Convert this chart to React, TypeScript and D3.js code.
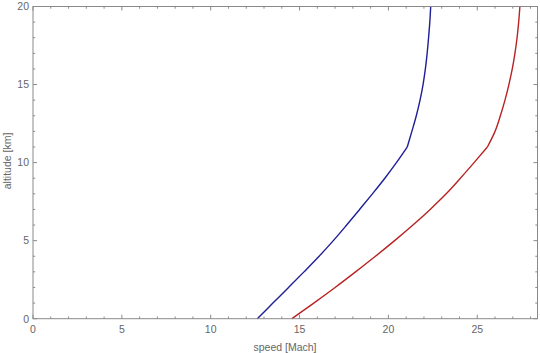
import React from "react";
import * as d3 from "d3";

const altitudeKm = [0, 1, 2, 3, 4, 5, 6, 7, 8, 9, 10, 11, 12, 13, 14, 15, 16, 17, 18, 19, 20];
const blueSpeed = [12.62, 13.5, 14.38, 15.25, 16.1, 16.9, 17.65, 18.38, 19.1, 19.8, 20.45, 21.06, 21.32, 21.57, 21.78, 21.95, 22.08, 22.18, 22.26, 22.33, 22.38];
const redSpeed = [14.56, 15.8, 17.0, 18.15, 19.27, 20.35, 21.38, 22.35, 23.25, 24.05, 24.82, 25.57, 26.0, 26.3, 26.56, 26.78, 26.97, 27.12, 27.24, 27.33, 27.4];
const kinkAltitude = 11;
const xMajorTicks = [0, 5, 10, 15, 20, 25];
const yMajorTicks = [0, 5, 10, 15, 20];
const xLabel = "speed [Mach]";
const yLabel = "altitude [km]";

const W = 540;
const H = 353;
const left = 33;
const right = 537.5;
const top = 6.5;
const bottom = 318.7;

export default function App() {
  const x = d3.scaleLinear().domain([0, 28.39]).range([left, right]);
  const y = d3.scaleLinear().domain([0, 20]).range([bottom, top]);
  const xMinor = d3.range(0, 29, 1).filter((v) => v % 5 !== 0);
  const yMinor = d3.range(0, 21, 1).filter((v) => v % 5 !== 0);

  const line = d3
    .line<[number, number]>()
    .x((d) => x(d[0]))
    .y((d) => y(d[1]))
    .curve(d3.curveMonotoneY);

  const segs = (speeds: number[]) => {
    const pts: [number, number][] = altitudeKm.map((h, i) => [speeds[i], h]);
    const k = altitudeKm.indexOf(kinkAltitude);
    return [pts.slice(0, k + 1), pts.slice(k)];
  };

  const frame = "#8a8a8a";
  const textColor = "#666";
  const font = "'Liberation Sans', Arial, sans-serif";
  const majorLen = 4;
  const minorLen = 2.2;

  return (
    <svg width={W} height={H} style={{ position: "absolute", left: 0, top: 0, background: "#fff" }}>
      <rect x={0} y={0} width={W} height={H} fill="#fff" />
      {segs(blueSpeed).map((s, i) => (
        <path key={"b" + i} d={line(s) || ""} fill="none" stroke="#1e1e98" strokeWidth={1.4} />
      ))}
      {segs(redSpeed).map((s, i) => (
        <path key={"r" + i} d={line(s) || ""} fill="none" stroke="#b82222" strokeWidth={1.4} />
      ))}
      <rect x={left} y={top} width={right - left} height={bottom - top} fill="none" stroke={frame} strokeWidth={1} />
      {xMajorTicks.map((v) => (
        <g key={"xm" + v}>
          <line x1={x(v)} x2={x(v)} y1={bottom} y2={bottom - majorLen} stroke={frame} />
          <line x1={x(v)} x2={x(v)} y1={top} y2={top + majorLen} stroke={frame} />
          <text x={x(v)} y={bottom + 14} textAnchor="middle" fontFamily={font} fontSize={10.5} fill={textColor}>
            {v}
          </text>
        </g>
      ))}
      {xMinor.map((v) => (
        <g key={"xn" + v}>
          <line x1={x(v)} x2={x(v)} y1={bottom} y2={bottom - minorLen} stroke={frame} />
          <line x1={x(v)} x2={x(v)} y1={top} y2={top + minorLen} stroke={frame} />
        </g>
      ))}
      {yMajorTicks.map((v) => (
        <g key={"ym" + v}>
          <line x1={left} x2={left + majorLen} y1={y(v)} y2={y(v)} stroke={frame} />
          <line x1={right} x2={right - majorLen} y1={y(v)} y2={y(v)} stroke={frame} />
          <text x={left - 4} y={y(v) + 3.8} textAnchor="end" fontFamily={font} fontSize={10.5} fill={textColor}>
            {v}
          </text>
        </g>
      ))}
      {yMinor.map((v) => (
        <g key={"yn" + v}>
          <line x1={left} x2={left + minorLen} y1={y(v)} y2={y(v)} stroke={frame} />
          <line x1={right} x2={right - minorLen} y1={y(v)} y2={y(v)} stroke={frame} />
        </g>
      ))}
      <text x={285} y={351} textAnchor="middle" fontFamily={font} fontSize={10.5} fill={textColor}>
        {xLabel}
      </text>
      <text
        transform={`translate(10.5,161) rotate(-90)`}
        textAnchor="middle"
        fontFamily={font}
        fontSize={10.5}
        fill={textColor}
      >
        {yLabel}
      </text>
    </svg>
  );
}
